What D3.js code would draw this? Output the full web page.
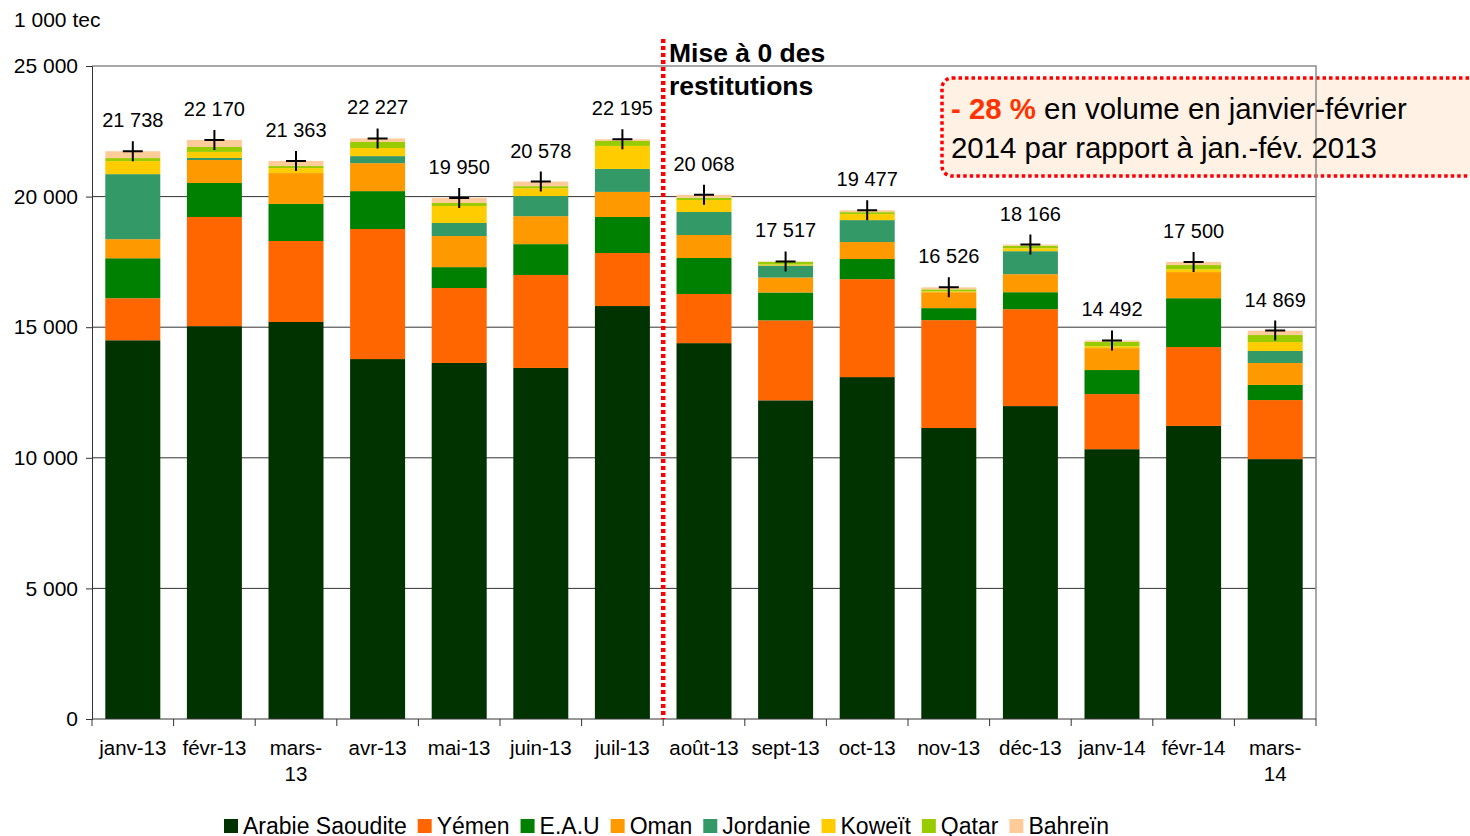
<!DOCTYPE html>
<html>
<head>
<meta charset="utf-8">
<script src="https://cdn.jsdelivr.net/npm/d3@7"></script>
<style>
  body { margin: 0; background: #fff; }
  svg { display: block; font-family: "Liberation Sans", Arial, sans-serif; }
</style>
</head>
<body>
<div id="chart"></div>
<script>
// monthly imports by origin, 1 000 tec
const months = ["janv-13", "févr-13", "mars-13", "avr-13", "mai-13", "juin-13", "juil-13",
  "août-13", "sept-13", "oct-13", "nov-13", "déc-13", "janv-14", "févr-14", "mars-14"];

const seriesNames = ["Arabie Saoudite", "Yémen", "E.A.U", "Oman", "Jordanie", "Koweït", "Qatar", "Bahreïn"];
const seriesColors = ["#003300", "#FF6600", "#008000", "#FF9900", "#339966", "#FFCC00", "#99CC00", "#FFCC99"];

const arabie   = [14500, 15040, 15200, 13780, 13630, 13440, 15810, 14390, 12200, 13090, 11140, 11980, 10330, 11220, 9950];
const yemen    = [1610, 4180, 3100, 4980, 2870, 3560, 2030, 1880, 3060, 3750, 4130, 3710, 2110, 3020, 2260];
const eau      = [1530, 1300, 1420, 1450, 800, 1180, 1380, 1380, 1070, 770, 460, 650, 920, 1870, 580];
const oman     = [730, 880, 1180, 1070, 1190, 1070, 960, 880, 570, 650, 610, 690, 840, 1000, 840];
const jordanie = [2490, 80, 0, 270, 500, 770, 880, 880, 460, 840, 0, 880, 0, 0, 460];
const koweit   = [500, 230, 190, 310, 650, 300, 880, 460, 40, 230, 30, 110, 70, 110, 340];
const qatar    = [115, 190, 80, 230, 115, 80, 190, 80, 100, 75, 80, 100, 170, 160, 270];
const bahrein  = [263, 270, 193, 137, 195, 178, 65, 118, 17, 72, 76, 46, 52, 120, 169];

const totals = [21738, 22170, 21363, 22227, 19950, 20578, 22195, 20068, 17517, 19477, 16526, 18166, 14492, 17500, 14869];
const yTicks = [0, 5000, 10000, 15000, 20000, 25000];

const W = 1470, H = 836;
const plot = { left: 92, right: 1316, top: 66, bottom: 719 };

const svg = d3.select("#chart").append("svg")
  .attr("width", W)
  .attr("height", H);

const fr = d3.formatLocale({ decimal: ",", thousands: " ", grouping: [3], currency: ["", " €"] });
const fmt = fr.format(",");

const x = d3.scaleBand()
  .domain(months)
  .range([plot.left, plot.right])
  .paddingInner(0.326)
  .paddingOuter(0.163);

const y = d3.scaleLinear()
  .domain([0, 25000])
  .range([plot.bottom, plot.top]);

// table for the stack
const rows = months.map((m, i) => {
  const r = { month: m };
  const cols = [arabie, yemen, eau, oman, jordanie, koweit, qatar, bahrein];
  seriesNames.forEach((s, k) => { r[s] = cols[k][i]; });
  return r;
});
const stacked = d3.stack().keys(seriesNames)(rows);

// annotation box (behind plot border)
const box = svg.append("g");
box.append("rect")
  .attr("x", 942).attr("y", 78)
  .attr("width", 600).attr("height", 98)
  .attr("rx", 10)
  .attr("fill", "#FFF1E4")
  .attr("stroke", "#FF0000")
  .attr("stroke-width", 3.5)
  .attr("stroke-dasharray", "3.5,3");

// gridlines
svg.append("g")
  .selectAll("line")
  .data(yTicks.filter(d => d > 0 && d < 25000))
  .join("line")
  .attr("x1", plot.left).attr("x2", plot.right)
  .attr("y1", d => y(d)).attr("y2", d => y(d))
  .attr("stroke", "#333")
  .attr("stroke-width", 1);

// plot border (top and right)
svg.append("path")
  .attr("d", `M${plot.left},${y(25000)}H${plot.right}V${plot.bottom}`)
  .attr("fill", "none")
  .attr("stroke", "#8c8c8c")
  .attr("stroke-width", 1.5);

// bars
svg.append("g")
  .selectAll("g")
  .data(stacked)
  .join("g")
  .attr("fill", (d, i) => seriesColors[i])
  .selectAll("rect")
  .data(d => d)
  .join("rect")
  .attr("x", d => x(d.data.month))
  .attr("width", x.bandwidth())
  .attr("y", d => y(d[1]))
  .attr("height", d => y(d[0]) - y(d[1]));

// y axis
const yAxis = svg.append("g")
  .attr("transform", `translate(${plot.left},0)`)
  .call(d3.axisLeft(y).tickValues(yTicks).tickFormat(fmt).tickSize(6).tickPadding(8));
yAxis.select(".domain").attr("stroke", "#333");
yAxis.selectAll(".tick line").attr("stroke", "#333");
yAxis.selectAll("text").attr("font-size", 21).attr("font-family", "Liberation Sans, Arial").attr("fill", "#000");

// x axis: baseline, boundary ticks, labels
const step = x.step();
svg.append("line")
  .attr("x1", plot.left).attr("x2", plot.right)
  .attr("y1", plot.bottom).attr("y2", plot.bottom)
  .attr("stroke", "#333");
svg.append("g")
  .selectAll("line")
  .data(d3.range(months.length + 1))
  .join("line")
  .attr("x1", i => plot.left + i * step).attr("x2", i => plot.left + i * step)
  .attr("y1", plot.bottom).attr("y2", plot.bottom + 7)
  .attr("stroke", "#333");

const xl = svg.append("g")
  .selectAll("text")
  .data(months)
  .join("text")
  .attr("x", d => x(d) + x.bandwidth() / 2)
  .attr("y", 755)
  .attr("text-anchor", "middle")
  .attr("font-size", 20.5)
  .attr("fill", "#000");
xl.each(function (d) {
  const t = d3.select(this);
  if (d.startsWith("mars")) {
    const parts = d.split("-");
    t.append("tspan").attr("x", x(d) + x.bandwidth() / 2).text(parts[0] + "-");
    t.append("tspan").attr("x", x(d) + x.bandwidth() / 2).attr("dy", 26).text(parts[1]);
  } else {
    t.text(d);
  }
});

// totals: cross markers and labels
const tot = svg.append("g")
  .selectAll("g")
  .data(months)
  .join("g")
  .attr("transform", (d, i) => `translate(${x(d) + x.bandwidth() / 2},${y(totals[i])})`);
tot.append("path")
  .attr("d", "M-10,0H10M0,-10V10")
  .attr("stroke", "#000")
  .attr("stroke-width", 2);
tot.append("text")
  .attr("y", -24)
  .attr("text-anchor", "middle")
  .attr("font-size", 20)
  .attr("fill", "#000")
  .text((d, i) => fmt(totals[i]));

// red dotted separator between juil-13 and août-13
const sepX = plot.left + 7 * step;
svg.append("line")
  .attr("x1", sepX).attr("x2", sepX)
  .attr("y1", 39).attr("y2", plot.bottom)
  .attr("stroke", "#FF0000")
  .attr("stroke-width", 4.5)
  .attr("stroke-dasharray", "4,3");

svg.append("text")
  .attr("x", 669).attr("y", 62)
  .attr("font-size", 26.5).attr("font-weight", "bold")
  .text("Mise à 0 des");
svg.append("text")
  .attr("x", 669).attr("y", 95)
  .attr("font-size", 26.5).attr("font-weight", "bold")
  .text("restitutions");

// annotation text
const note = svg.append("text")
  .attr("x", 951).attr("y", 119)
  .attr("font-size", 29.4);
note.append("tspan").attr("font-weight", "bold").attr("fill", "#FF3300").text("- 28 %");
note.append("tspan").attr("fill", "#000").text(" en volume en janvier-février");
svg.append("text")
  .attr("x", 951).attr("y", 158)
  .attr("font-size", 29.4)
  .attr("fill", "#000")
  .text("2014 par rapport à jan.-fév. 2013");

// unit
svg.append("text")
  .attr("x", 14).attr("y", 27)
  .attr("font-size", 21)
  .text("1 000 tec");

// legend
const legend = svg.append("g");
let lx = 224;
seriesNames.forEach((s, i) => {
  legend.append("rect")
    .attr("x", lx).attr("y", 819)
    .attr("width", 14).attr("height", 14)
    .attr("fill", seriesColors[i]);
  const t = legend.append("text")
    .attr("x", lx + 19).attr("y", 834)
    .attr("font-size", 23)
    .text(s);
  lx += 19 + t.node().getComputedTextLength() + 11;
});
</script>
</body>
</html>
